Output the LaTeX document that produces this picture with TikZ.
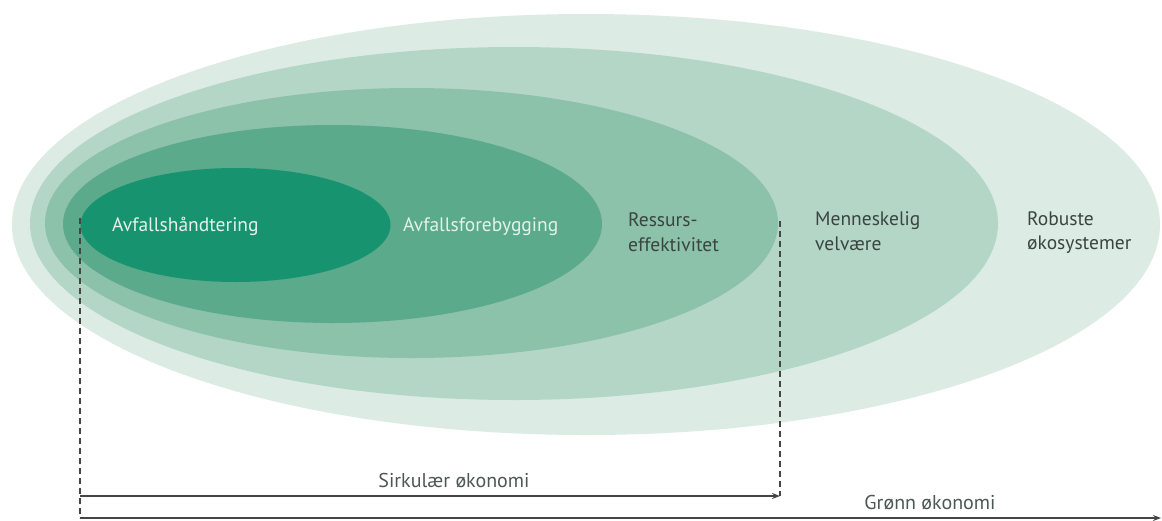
\documentclass[tikz,border=0pt]{standalone}
\usepackage{fontspec}
\setmainfont{PT Sans}
\usetikzlibrary{arrows.meta}
\definecolor{eOne}{HTML}{DDEBE5}
\definecolor{eTwo}{HTML}{B4D6C7}
\definecolor{eThree}{HTML}{8CC1AA}
\definecolor{eFour}{HTML}{5AAA8B}
\definecolor{eFive}{HTML}{18936F}
\definecolor{lightTxt}{HTML}{E4F2EB}
\definecolor{darkTxt}{HTML}{3A4540}
\definecolor{lineCol}{HTML}{454545}
\tikzset{
  ell/.style={draw=none},
  lbl/.style={anchor=base west, inner sep=0pt, align=left, font=\fontsize{19.5}{24.5}\selectfont},
  lbllight/.style={lbl, text=lightTxt},
  lbldark/.style={lbl, text=darkTxt},
  bottomlbl/.style={anchor=base, inner sep=0pt, text=darkTxt!90!white, font=\fontsize{20}{24}\selectfont},
  guide/.style={draw=lineCol, line width=1.1pt, dash pattern=on 6pt off 4pt},
  span/.style={draw=lineCol, line width=1.1pt, -{Stealth[length=8pt,width=6pt]}}
}
\begin{document}
\begin{tikzpicture}[x=1pt,y=-1pt]
\useasboundingbox (0,0) rectangle (1162,520);
\fill[white] (0,0) rectangle (1162,520);
% nested ellipses
\fill[eOne]   (586,224.5) ellipse [x radius=574, y radius=210.5];
\fill[eTwo]   (514,223.5) ellipse [x radius=484, y radius=176.5];
\fill[eThree] (411.5,223) ellipse [x radius=366.5, y radius=135];
\fill[eFour]  (332.5,224) ellipse [x radius=269.5, y radius=99];
\fill[eFive]  (235.5,225) ellipse [x radius=155, y radius=57];
% labels
\node[lbllight] (avh) at (112,231) {Avfallshåndtering};
\node[lbllight] (avf) at (403,231) {Avfallsforebygging};
\node[lbldark, anchor=north west] (res) at (628,212.5) {Ressurs-\\effektivitet};
\node[lbldark, anchor=north west] (men) at (815,211.5) {Menneskelig\\velvære};
\node[lbldark, anchor=north west] (rob) at (1027,211) {Robuste\\økosystemer};
% guides
\coordinate (sTop) at (80,218);
\coordinate (sMid) at (80,496);
\coordinate (sBot) at (80,518);
\coordinate (cTop) at (780,221);
\coordinate (cBot) at (780,496);
\coordinate (gEnd) at (1161,518);
\draw[guide] (sTop) -- (sBot);
\draw[guide] (cTop) -- (cBot);
\draw[span] (sMid) -- (cBot);
\draw[span] (sBot) -- (gEnd);
\node[bottomlbl] (sirk) at (454,487) {Sirkulær økonomi};
\node[bottomlbl] (gron) at (930,509) {Grønn økonomi};
\end{tikzpicture}
\end{document}
